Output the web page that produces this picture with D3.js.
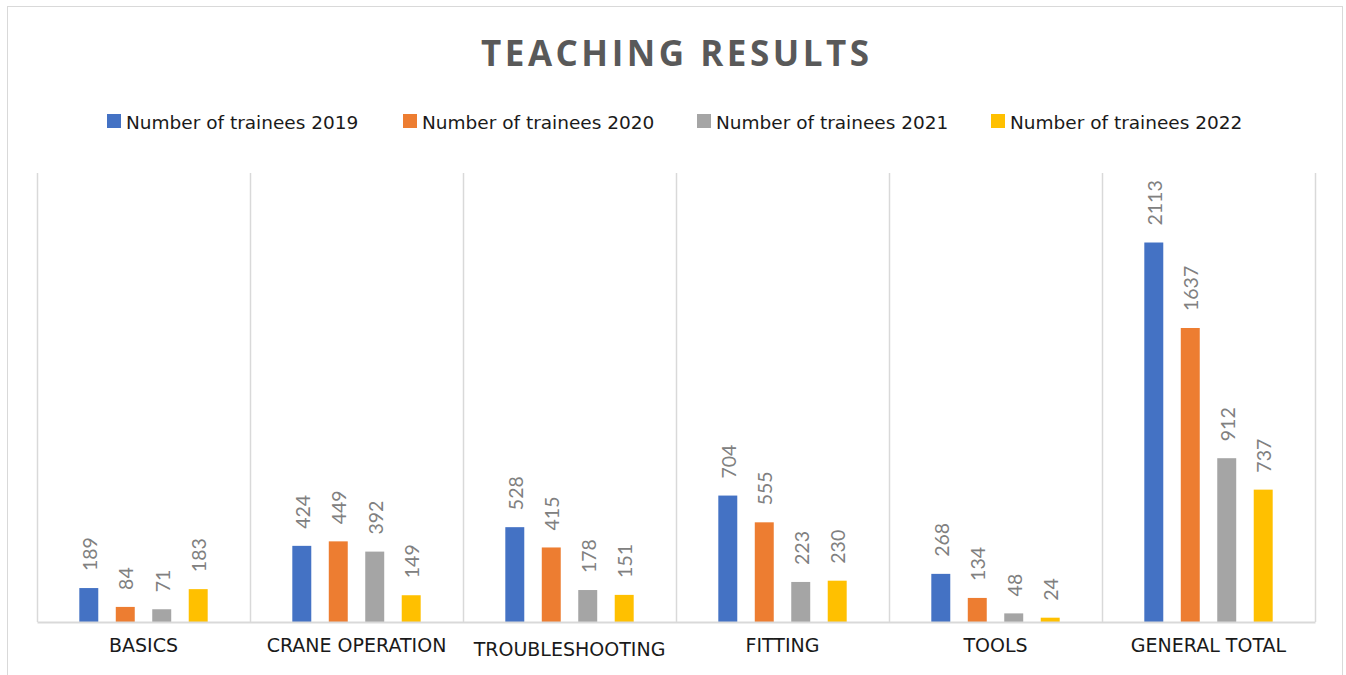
<!DOCTYPE html>
<html>
<head>
<meta charset="utf-8">
<script src="https://cdn.jsdelivr.net/npm/d3@7"></script>
<style>
  html, body { margin: 0; padding: 0; background: #fff; }
  svg { display: block; }
</style>
</head>
<body>
<svg id="chart" width="1346" height="675"></svg>
<script>
// Training categories and trainee counts per year
const categories = ["BASICS", "CRANE OPERATION", "TROUBLESHOOTING", "FITTING", "TOOLS", "GENERAL TOTAL"];
const seriesNames = ["Number of trainees 2019", "Number of trainees 2020", "Number of trainees 2021", "Number of trainees 2022"];
const trainees2019 = [189, 424, 528, 704, 268, 2113];
const trainees2020 = [84, 449, 415, 555, 134, 1637];
const trainees2021 = [71, 392, 178, 223, 48, 912];
const trainees2022 = [183, 149, 151, 230, 24, 737];
const seriesColors = ["#4472C4", "#ED7D31", "#A5A5A5", "#FFC000"];
const yMax = 2500;

const seriesValues = [trainees2019, trainees2020, trainees2021, trainees2022];
const fontFamily = "'DejaVu Sans', Verdana, sans-serif";
const labelFont = "Lato, 'Open Sans', sans-serif";
const titleFont = "'Open Sans', sans-serif";

const svg = d3.select("#chart");

// Chart frame
svg.append("rect")
  .attr("x", 7.5).attr("y", 6.5)
  .attr("width", 1335).attr("height", 700)
  .attr("fill", "#fff").attr("stroke", "#d9d9d9").attr("stroke-width", 1);

const plot = { left: 37, right: 1315, top: 173, bottom: 622 };

const x0 = d3.scaleBand()
  .domain(categories)
  .range([plot.left, plot.right])
  .paddingInner(0).paddingOuter(0);

const x1 = d3.scaleBand()
  .domain(d3.range(seriesNames.length))
  .range([0, x0.bandwidth()])
  .paddingInner(0.48)
  .paddingOuter(1.16);

const y = d3.scaleLinear().domain([0, yMax]).range([plot.bottom, plot.top]);

// Title, spaced out to a fixed width
const titleText = "TEACHING RESULTS";
const title = svg.append("text")
  .attr("x", 675).attr("y", 66)
  .attr("text-anchor", "middle")
  .attr("font-family", titleFont)
  .attr("font-size", 35)
  .attr("font-weight", "bold")
  .attr("fill", "#595959")
  .text(titleText);
const natural = title.node().getComputedTextLength();
const spacing = Math.max(0, (388 - natural) / (titleText.length - 1));
title.attr("letter-spacing", spacing).attr("x", 675 + spacing / 2);

// Legend
const legendX = [107, 403, 697, 991];
const legend = svg.append("g");
seriesNames.forEach((name, i) => {
  const g = legend.append("g").attr("transform", `translate(${legendX[i]},114)`);
  g.append("rect").attr("width", 14).attr("height", 14).attr("fill", seriesColors[i]);
  g.append("text")
    .attr("x", 19).attr("y", 14.5)
    .attr("font-family", fontFamily)
    .attr("font-size", 18.5)
    .attr("fill", "#1a1a1a")
    .text(name);
});

// Vertical category separators
const bounds = categories.map(c => x0(c)).concat([plot.right]);
svg.append("g").selectAll("line")
  .data(bounds)
  .join("line")
  .attr("x1", d => d + 0.5).attr("x2", d => d + 0.5)
  .attr("y1", plot.top).attr("y2", plot.bottom)
  .attr("stroke", "#d9d9d9").attr("stroke-width", 1.5);

// Bars
const groups = svg.append("g").selectAll("g")
  .data(categories)
  .join("g")
  .attr("transform", c => `translate(${x0(c)},0)`);

groups.selectAll("rect")
  .data((c, ci) => seriesValues.map((vals, si) => ({ si, v: vals[ci] })))
  .join("rect")
  .attr("x", d => x1(d.si))
  .attr("width", x1.bandwidth())
  .attr("y", d => y(d.v))
  .attr("height", d => y(0) - y(d.v))
  .attr("fill", d => seriesColors[d.si]);

// Value labels, rotated
groups.selectAll("text.val")
  .data((c, ci) => seriesValues.map((vals, si) => ({ si, v: vals[ci] })))
  .join("text")
  .attr("class", "val")
  .attr("transform", d => `translate(${x1(d.si) + x1.bandwidth() / 2 + 8},${y(d.v) - 17}) rotate(-90)`)
  .attr("font-family", labelFont)
  .attr("font-size", 19.5)
  .attr("fill", "#808080")
  .text(d => d.v);

// Baseline axis
const xAxis = d3.axisBottom(x0).tickSize(0).tickPadding(16);
const axisG = svg.append("g")
  .attr("transform", `translate(0,${plot.bottom})`)
  .call(xAxis);
axisG.select(".domain").attr("stroke", "#d9d9d9").attr("stroke-width", 2);
axisG.selectAll("text")
  .attr("font-family", fontFamily)
  .attr("font-size", 19)
  .attr("fill", "#1a1a1a")
  .attr("dy", d => d === "TROUBLESHOOTING" ? "0.93em" : "0.75em");
</script>
</body>
</html>
